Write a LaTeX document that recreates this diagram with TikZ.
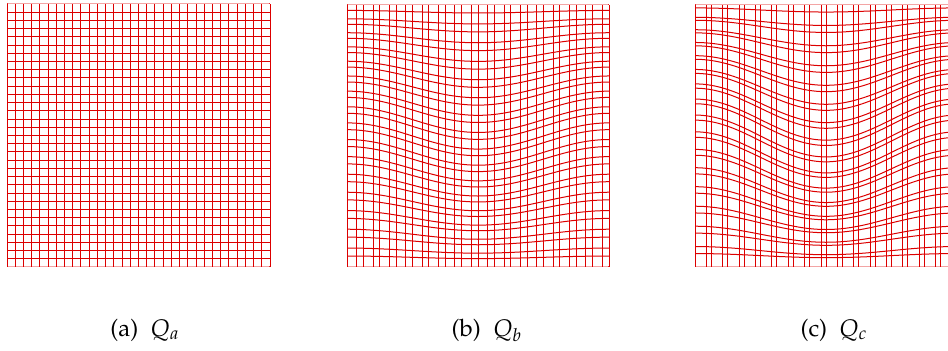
\documentclass[tikz,border=0pt]{standalone}
\usepackage[T1]{fontenc}
\usepackage{mathpazo}
\usepackage{tikz}
\usetikzlibrary{calc}
\definecolor{meshred}{RGB}{220,0,0}

% #1,#2 lower left corner, #3 size, #4 shift of odd lines, #5 wave amplitude
\newcommand{\meshgrid}[5]{%
  \foreach \i in {0,...,32}{
    \pgfmathsetmacro{\xx}{#1+(\i+#4*mod(\i,2))*#3/32}
    \draw[meshline] (\xx,#2) -- (\xx,#2+#3);
  }
  \foreach \j in {0,...,32}{
    \draw[meshline] plot[domain=0:1, samples=41, smooth]
      ({#1+\x*#3}, {#2+(\j+#4*mod(\j,2))*#3/32+#5*#3*sin(180*\j/32)*cos(360*\x)});
  }
}

\begin{document}
\begin{tikzpicture}[x=0.5pt, y=0.5pt,
  meshline/.style={meshred, line width=0.5pt},
  subcap/.style={font=\fontsize{12}{14}\selectfont, inner sep=0pt}]

  \useasboundingbox (0,0) rectangle (948,351);
  \clip (0,0) rectangle (948,351);

  % Q_a: the reference grid
  \meshgrid{7}{84}{263}{0}{0}
  % Q_b
  \meshgrid{347}{84}{262}{0.18}{0.05}
  % Q_c
  \meshgrid{695}{84}{262}{0.39}{0.08}

  % Captions
  \node[subcap] (capa) at (145,21) {(a)\ \ $Q_a$};
  \node[subcap] (capb) at (487,21) {(b)\ \ $Q_b$};
  \node[subcap] (capc) at (834,21) {(c)\ \ $Q_c$};
\end{tikzpicture}
\end{document}
